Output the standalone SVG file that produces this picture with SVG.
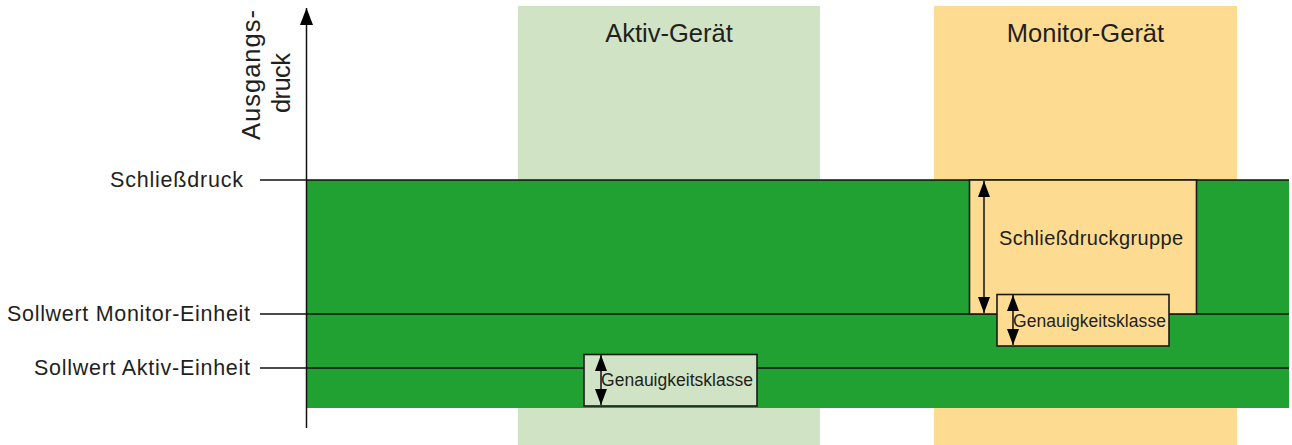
<svg xmlns="http://www.w3.org/2000/svg" width="1292" height="445" viewBox="0 0 1292 445">
<defs>
<style>
text{font-family:"Liberation Sans",Arial,sans-serif;fill:#231f20}
.lbl{font-size:21.5px}
.title{font-size:25.5px}
.big{font-size:20px}
.small{font-size:17.5px}
.ln{stroke:#111;stroke-width:1.5;fill:none}
.box{stroke:#1a1a1a;stroke-width:1.6}
</style>
<marker id="ah" viewBox="0 0 16 12" refX="16" refY="6" markerWidth="16" markerHeight="12" markerUnits="userSpaceOnUse" orient="auto-start-reverse">
<path d="M0,0 L16,6 L0,12 Z" fill="#000"/>
</marker>
<marker id="ax" viewBox="0 0 17 13" refX="17" refY="6.5" markerWidth="17" markerHeight="13" markerUnits="userSpaceOnUse" orient="auto">
<path d="M0,0 L17,6.5 L0,13 Z" fill="#000"/>
</marker>
</defs>
<rect width="1292" height="445" fill="#fff"/>
<g id="aktiv-geraet">
<rect x="518" y="6" width="302" height="439" fill="#d0e4c5"/>
<text class="title" x="669" y="42" text-anchor="middle">Aktiv-Gerät</text>
</g>
<g id="monitor-geraet">
<rect x="934" y="6" width="303" height="439" fill="#fddc91"/>
<text class="title" x="1085.5" y="42" text-anchor="middle">Monitor-Gerät</text>
</g>
<g id="band">
<rect x="307" y="180" width="982" height="228" fill="#21a131"/>
</g>
<g id="axis">
<line class="ln" x1="306.5" y1="428" x2="306.5" y2="8" marker-end="url(#ax)"/>
<text class="title" transform="translate(260,140) rotate(-90)" textLength="130">Ausgangs-</text>
<text class="title" transform="translate(290,113) rotate(-90)" textLength="60">druck</text>
</g>
<g id="connectors">
<line class="ln" x1="260" y1="180" x2="1289" y2="180"/>
<line class="ln" x1="260" y1="314" x2="1289" y2="314"/>
<line class="ln" x1="260" y1="368" x2="1289" y2="368"/>
</g>
<g id="label-schliessdruck">
<text class="lbl" x="243" y="187" text-anchor="end" textLength="133">Schließdruck</text>
</g>
<g id="label-sollwert-monitor">
<text class="lbl" x="250" y="321" text-anchor="end" textLength="243">Sollwert Monitor-Einheit</text>
</g>
<g id="label-sollwert-aktiv">
<text class="lbl" x="250" y="375" text-anchor="end" textLength="216">Sollwert Aktiv-Einheit</text>
</g>
<g id="schliessdruckgruppe">
<rect class="box" x="969.5" y="180" width="227" height="134" fill="#fddc91"/>
<line class="ln" x1="984" y1="181" x2="984" y2="313" marker-start="url(#ah)" marker-end="url(#ah)"/>
<text class="big" x="999" y="245" textLength="184">Schließdruckgruppe</text>
</g>
<g id="genauigkeit-monitor">
<rect class="box" x="997" y="294.5" width="172" height="51.5" fill="#fddc91"/>
<line class="ln" x1="1013" y1="295" x2="1013" y2="345" marker-start="url(#ah)" marker-end="url(#ah)"/>
<text class="small" x="1013" y="327" textLength="153">Genauigkeitsklasse</text>
</g>
<g id="genauigkeit-aktiv">
<rect class="box" x="584" y="354.5" width="173" height="51.5" fill="#d0e4c5"/>
<line class="ln" x1="601" y1="355" x2="601" y2="405" marker-start="url(#ah)" marker-end="url(#ah)"/>
<text class="small" x="601" y="386" textLength="152">Genauigkeitsklasse</text>
</g>
</svg>
